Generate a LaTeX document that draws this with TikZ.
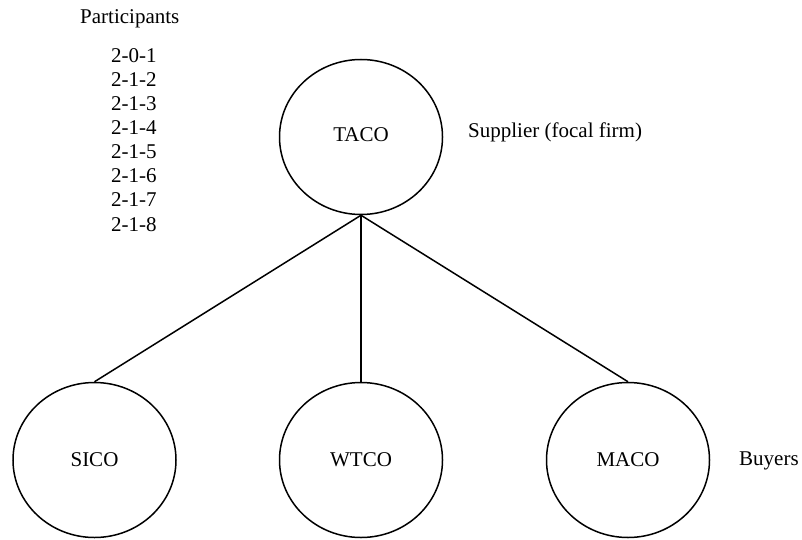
\documentclass[tikz,border=0pt]{standalone}
\usepackage{fontspec}
\setmainfont{Liberation Serif}
\usetikzlibrary{shapes.geometric}
\begin{document}
\begin{tikzpicture}[x=1pt,y=-1pt,
  firm/.style={draw, ellipse, line width=1.5pt, minimum width=163pt, minimum height=155pt, inner sep=0pt},
  label/.style={inner sep=0pt, font=\fontsize{21}{24}\selectfont},
  tie/.style={line width=1.5pt}]
\useasboundingbox (0,0) rectangle (802,540);

% companies
\node[firm] (taco) at (361,137) {};
\node[firm] (sico) at (94.5,460) {};
\node[firm] (wtco) at (361,460) {};
\node[firm] (maco) at (628,460) {};

% company names
\node[label, anchor=base] (taconame) at (361,142) {TACO};
\node[label, anchor=base] (siconame) at (94.5,466) {SICO};
\node[label, anchor=base] (wtconame) at (361,466) {WTCO};
\node[label, anchor=base] (maconame) at (628,466) {MACO};

% roles
\node[label, anchor=base west] (supplier) at (468,137.5) {Supplier (focal firm)};
\node[label, anchor=base west] (buyers) at (739,465) {Buyers};

% participant list
\node[label, anchor=base west] (participants) at (80,24) {Participants};
\foreach \code [count=\i] in {2-0-1,2-1-2,2-1-3,2-1-4,2-1-5,2-1-6,2-1-7,2-1-8}
  \node[label, anchor=base west] (p\i) at (111,{62.3+24.1*(\i-1)}) {\code};

% supplier–buyer ties
\draw[tie] (taco.south) -- (sico.north);
\draw[tie] (taco.south) -- (wtco.north);
\draw[tie] (taco.south) -- (maco.north);
\end{tikzpicture}
\end{document}
